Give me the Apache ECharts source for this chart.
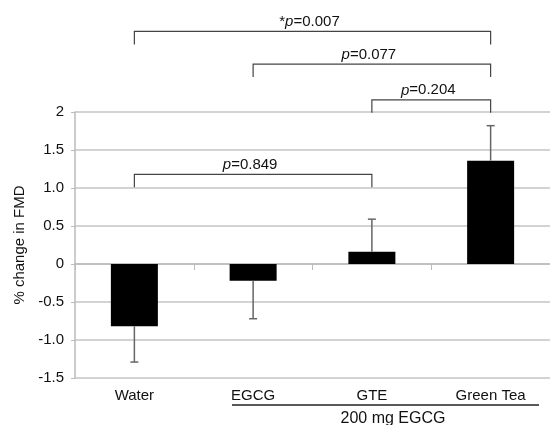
<!DOCTYPE html>
<html>
<head>
<meta charset="utf-8">
<script src="https://cdn.jsdelivr.net/npm/echarts@6/dist/echarts.min.js"></script>
<style>
  html, body { margin: 0; padding: 0; background: #fff; }
  #main { width: 550px; height: 425px; }
</style>
</head>
<body>
<div id="main"></div>
<script>
var categories = ['Water', 'EGCG', 'GTE', 'Green Tea'];
var meanChange = [-0.82, -0.22, 0.16, 1.36];
// end of the (one-sided) error bar for each group
var errorEnd = [-1.29, -0.72, 0.59, 1.82];
var yTickLabels = ['-1.5', '-1.0', '-0.5', '0', '0.5', '1.0', '1.5', '2'];
// pairwise comparisons: group indexes, bracket height (axis units), p text
var compFrom = [0, 1, 2, 0];
var compTo = [3, 3, 3, 2];
var compLevel = [3.06, 2.63, 2.16, 1.18];
var compText = ['*p=0.007', 'p=0.077', 'p=0.204', 'p=0.849'];

var font = 'Liberation Sans, Arial, sans-serif';
var fs = 15;

var errData = categories.map(function (c, i) { return [i, meanChange[i], errorEnd[i]]; });
var compData = compFrom.map(function (f, i) { return [f, compTo[i], compLevel[i]]; });

function renderError (params, api) {
  var a = api.coord([api.value(0), api.value(1)]);
  var b = api.coord([api.value(0), api.value(2)]);
  return {
    type: 'group',
    children: [
      { type: 'line', shape: { x1: a[0], y1: a[1], x2: b[0], y2: b[1] }, style: { stroke: '#666', lineWidth: 1.5 } },
      { type: 'line', shape: { x1: b[0] - 4, y1: b[1], x2: b[0] + 4, y2: b[1] }, style: { stroke: '#666', lineWidth: 1.5 } }
    ]
  };
}

function renderBracket (params, api) {
  var a = api.coord([api.value(0), api.value(2)]);
  var b = api.coord([api.value(1), api.value(2)]);
  var drop = 13;
  var txt = compText[params.dataIndex].replace('p=', '{i|p}=');
  return {
    type: 'group',
    children: [
      {
        type: 'polyline',
        shape: { points: [[a[0], a[1] + drop], [a[0], a[1]], [b[0], b[1]], [b[0], b[1] + drop]] },
        style: { stroke: '#444', lineWidth: 1.2, fill: null }
      },
      {
        type: 'text',
        x: (a[0] + b[0]) / 2 - 3,
        y: a[1] - 2,
        style: {
          text: txt,
          align: 'center',
          verticalAlign: 'bottom',
          fill: '#111',
          fontSize: fs,
          fontFamily: font,
          rich: { i: { fontStyle: 'italic', fontSize: fs, fontFamily: font, fill: '#111' } }
        }
      }
    ]
  };
}

var chart = echarts.init(document.getElementById('main'));
chart.setOption({
  animation: false,
  grid: { left: 75, right: -4, top: 112, bottom: 47 },
  xAxis: [{
    type: 'category',
    data: categories,
    axisLine: { onZero: true, lineStyle: { color: '#bbb', width: 1.5 } },
    axisTick: { show: true, length: 6, lineStyle: { color: '#bbb' } },
    axisLabel: { show: false }
  }, {
    type: 'category',
    data: categories,
    position: 'bottom',
    axisLine: { show: false, onZero: false },
    axisTick: { show: false },
    axisLabel: { fontSize: fs, color: '#111', fontFamily: font, margin: 10 }
  }],
  yAxis: {
    type: 'value',
    min: -1.5,
    max: 2,
    interval: 0.5,
    name: '% change in FMD',
    nameLocation: 'middle',
    nameGap: 46,
    nameTextStyle: { fontSize: fs, color: '#111', fontFamily: font },
    axisLine: { show: true, lineStyle: { color: '#bbb', width: 1.5 } },
    axisTick: { show: true, length: 4, lineStyle: { color: '#bbb' } },
    splitLine: { lineStyle: { color: '#c4c4c4', width: 1.5 } },
    axisLabel: {
      fontSize: fs, color: '#111', fontFamily: font, margin: 11,
      formatter: function (v) { return yTickLabels[Math.round((v + 1.5) / 0.5)]; }
    }
  },
  series: [{
    type: 'bar',
    data: meanChange,
    barWidth: 47,
    itemStyle: { color: '#000' }
  }, {
    type: 'custom',
    data: errData,
    renderItem: renderError,
    z: 3
  }, {
    type: 'custom',
    data: compData,
    renderItem: renderBracket,
    clip: false,
    z: 4
  }],
  graphic: [{
    type: 'line',
    shape: { x1: 232, y1: 405, x2: 539, y2: 405 },
    style: { stroke: '#222', lineWidth: 1.5 }
  }, {
    type: 'text',
    x: 393,
    y: 419,
    style: { text: '200 mg EGCG', align: 'center', verticalAlign: 'middle', fontSize: 16, fontFamily: font, fill: '#111' }
  }]
});
</script>
</body>
</html>
